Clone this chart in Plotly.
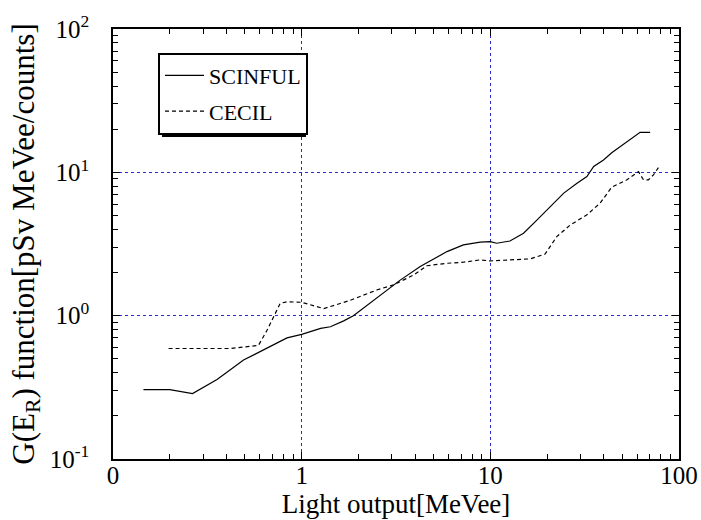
import plotly.graph_objects as go

# ---- data ----
scinful_x = [0.145, 0.20, 0.264, 0.356, 0.492, 0.71, 0.836, 1.0, 1.26, 1.42, 1.67, 1.88, 2.5, 3.33,
             4.25, 5.89, 7.2, 8.83, 10.0, 10.8, 12.7, 15.0, 17.7, 20.8, 24.5, 28.8, 32.5, 35.3,
             39.8, 44.0, 50.8, 56.2, 62.2, 70.3]
scinful_y = [0.305, 0.305, 0.286, 0.359, 0.49, 0.63, 0.70, 0.74, 0.815, 0.837, 0.92, 1.0, 1.32, 1.77,
             2.2, 2.8, 3.12, 3.26, 3.28, 3.2, 3.32, 3.76, 4.66, 5.77, 7.16, 8.4, 9.35, 11.0,
             12.2, 13.7, 15.6, 17.3, 19.0, 19.0]

cecil_x = [0.197, 0.42, 0.59, 0.655, 0.77, 0.836, 1.0, 1.31, 1.81, 2.5, 3.07, 3.92, 4.61, 5.89,
           7.2, 8.83, 10.0, 12.7, 16.3, 19.5, 22.5, 26.5, 32.5, 38.2, 44.0, 53.0, 61.0, 64.8,
           68.9, 73.2, 77.8]
cecil_y = [0.59, 0.59, 0.62, 0.79, 1.22, 1.25, 1.24, 1.12, 1.28, 1.51, 1.64, 1.92, 2.23, 2.32,
           2.36, 2.45, 2.41, 2.45, 2.49, 2.69, 3.56, 4.29, 5.05, 6.1, 7.88, 8.87, 10.1, 8.87,
           8.87, 9.6, 10.8]

x_tickvals = [0.1, 1, 10, 100]
x_ticktext = ["0", "1", "10", "100"]
y_tickvals = [0.1, 1, 10, 100]
y_ticktext = ["10<sup>-1</sup>", "10<sup>0</sup>", "10<sup>1</sup>", "10<sup>2</sup>"]
minor_vals = [m * 10 ** e for e in (-1, 0, 1) for m in range(2, 10)]

FONT = "Liberation Serif, Times New Roman, serif"

fig = go.Figure()
fig.add_trace(go.Scatter(x=scinful_x, y=scinful_y, mode="lines", name="SCINFUL",
                         legendgroup="a", line=dict(color="black", width=1.2)))
fig.add_trace(go.Scatter(x=cecil_x, y=cecil_y, mode="lines", name="CECIL",
                         legendgroup="b", line=dict(color="black", width=1.2, dash="4px,3px")))

axis_common = dict(
    type="log", automargin=False,
    showline=True, linecolor="black", linewidth=1.5, mirror="allticks",
    ticks="inside", ticklen=7, tickcolor="black", tickwidth=1,
    showgrid=True, gridcolor="#2a2ad0", griddash="dot", gridwidth=1,
    zeroline=False,
    tickfont=dict(family=FONT, size=25, color="black"),
    minor=dict(tickvals=minor_vals, ticks="inside", ticklen=5, tickcolor="black",
               tickwidth=1, showgrid=False),
)

fig.update_layout(
    width=701, height=520,
    margin=dict(l=113, r=22, t=29, b=61),
    paper_bgcolor="white", plot_bgcolor="white",
    font=dict(family=FONT, color="black"),
    xaxis=dict(axis_common, range=[-1, 2], tickvals=x_tickvals, ticktext=x_ticktext,
               ticklabelstandoff=-7,
               title=dict(text="Light output[MeVee]", font=dict(family=FONT, size=27),
                          standoff=2)),
    yaxis=dict(axis_common, range=[-1, 2], tickvals=y_tickvals, ticktext=y_ticktext,
               ticklabelstandoff=17,
               title=dict(text="G(E<sub>R</sub>) function[pSv MeVee/counts]",
                          font=dict(family=FONT, size=31), standoff=6)),
    showlegend=True,
    legend=dict(x=0.0795, y=0.945, xanchor="left", yanchor="top",
                bgcolor="white", bordercolor="black", borderwidth=2,
                font=dict(family=FONT, size=22, color="black"),
                itemwidth=39, tracegroupgap=4),
)

# legend drop shadow
fig.add_shape(type="rect", xref="paper", yref="paper",
              x0=0.0866, x1=0.341, y0=0.749, y1=0.937,
              fillcolor="black", line=dict(width=0), layer="above")

fig.write_html("out.html", config={"displayModeBar": False},
               post_script="document.body.style.margin='0';")
